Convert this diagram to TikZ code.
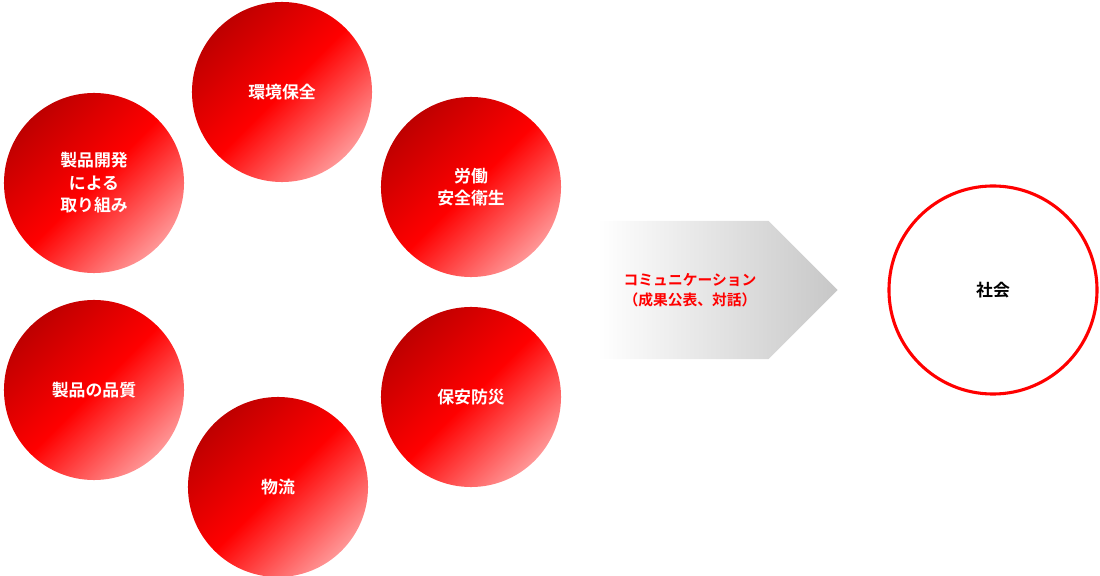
\documentclass[tikz,border=0pt]{standalone}
\usepackage{fontspec}
\newfontfamily\cjk{Noto Sans CJK JP}[BoldFont={Noto Sans CJK JP Bold}]
\usetikzlibrary{shapes.arrows}
\definecolor{deepred}{RGB}{190,0,0}
\definecolor{paleред}{RGB}{255,150,150}
\begin{document}
\begin{tikzpicture}[x=0.025cm,y=-0.025cm,
	topic/.style={circle, minimum size=4.5cm, inner sep=0pt, align=center,
		font=\cjk\bfseries\fontsize{12}{16}\selectfont, text=white,
		shading=axis, top color=deepred, bottom color={rgb,255:red,255;green,150;blue,150},
		middle color=red, shading angle=45}]
	\useasboundingbox (0,0) rectangle (1100,576);
	% circles of the activities
	\def\topics {env/282/92/環境保全, labor/471/187/労働\\安全衛生, dev/94/183/製品開発\\による\\取り組み,
		qual/94/390/製品の品質, safe/471/397/保安防災, logi/278/487/物流};
	\foreach \name\x\y\txt in \topics{
		\node[topic] (\name) at (\x,\y) {\txt};
	}
	% arrow to society
	\node[single arrow, minimum height=6cm, minimum width=3.45cm, single arrow head extend=0cm,
		shape border uses incircle, inner sep=0pt, anchor=tip, draw=none,
		left color=white, right color=black!22] (comm) at (838,290) {};
	\node[font=\cjk\bfseries\fontsize{10.5}{14}\selectfont, text=red, align=center]
		(commtxt) at (690,290) {コミュニケーション\\（成果公表、対話）};
	% society
	\node[circle, draw=red, line width=2.2pt, minimum size=5.2cm, fill=white,
		font=\cjk\bfseries\fontsize{12}{16}\selectfont] (soc) at (993,290) {社会};
\end{tikzpicture}
\end{document}
